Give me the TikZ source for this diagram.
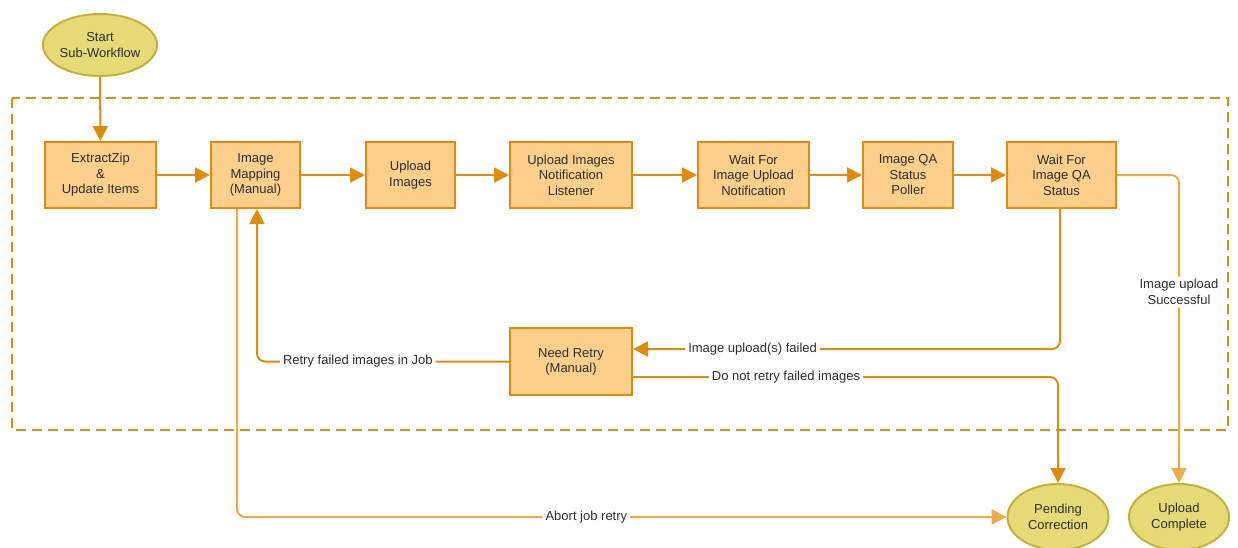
\documentclass[tikz,border=0pt]{standalone}
\usepackage{fontspec}
\setmainfont{Liberation Sans}
\usetikzlibrary{arrows.meta,shapes.geometric}
\definecolor{boxfill}{HTML}{FCD08A}
\definecolor{boxline}{HTML}{E08A0E}
\definecolor{lightline}{HTML}{EEAA45}
\definecolor{ellfill}{HTML}{E6DA76}
\definecolor{ellline}{HTML}{C2B23C}
\definecolor{txt}{HTML}{2E2E2E}
\tikzset{
  every node/.style={font=\fontsize{13}{15.5}\selectfont, text=txt, align=center},
  stepbox/.style={rectangle, draw=boxline, fill=boxfill, line width=2pt, minimum height=66pt, inner sep=0pt},
  term/.style={ellipse, draw=ellline, fill=ellfill, line width=2pt, inner sep=0pt},
  arr/.style={draw=boxline, line width=2pt, -{Triangle[length=15pt,width=15pt]}},
  larr/.style={draw=lightline, line width=2pt, -{Triangle[length=15pt,width=15pt]}, rounded corners=8pt},
  lbl/.style={fill=white, inner sep=3pt},
}
\begin{document}
\begin{tikzpicture}[x=1pt,y=-1pt]
\useasboundingbox (0,0) rectangle (1238,547);
% dashed container
\draw[boxline, line width=2pt, dash pattern=on 10pt off 6pt] (12,98) rectangle (1228,430);
% nodes
\node[term, minimum width=112pt, minimum height=62pt] (start) at (100,45) {Start\\Sub-Workflow};
\node[stepbox, minimum width=111pt] (extract) at (100.5,175) {ExtractZip\\\&\\Update Items};
\node[stepbox, minimum width=89pt] (mapping) at (255.5,175) {Image\\Mapping\\(Manual)};
\node[stepbox, minimum width=89pt] (upload) at (410.5,175) {Upload\\Images};
\node[stepbox, minimum width=122pt] (listener) at (571,175) {Upload Images\\Notification\\Listener};
\node[stepbox, minimum width=111pt] (wait) at (753.5,175) {Wait For\\Image Upload\\Notification};
\node[stepbox, minimum width=90pt] (poller) at (908,175) {Image QA\\Status\\Poller};
\node[stepbox, minimum width=109pt] (waitqa) at (1061.5,175) {Wait For\\Image QA\\Status};
\node[stepbox, minimum width=122pt, minimum height=67pt] (retry) at (571,361.5) {Need Retry\\(Manual)};
\node[term, minimum width=101pt, minimum height=66pt] (pending) at (1058,517) {Pending\\Correction};
\node[term, minimum width=100pt, minimum height=66pt] (complete) at (1179,517) {Upload\\Complete};
% main flow
\draw[arr] (start) -- (extract);
\draw[arr] (extract) -- (mapping);
\draw[arr] (mapping) -- (upload);
\draw[arr] (upload) -- (listener);
\draw[arr] (listener) -- (wait);
\draw[arr] (wait) -- (poller);
\draw[arr] (poller) -- (waitqa);
% branches
\draw[arr, rounded corners=8pt] ([xshift=-1.5pt]waitqa.south) |- node[lbl, pos=0.86]{Image upload(s) failed} ([yshift=12.5pt]retry.east);
\draw[arr, rounded corners=8pt] (retry.west) -| node[lbl, pos=0.3]{Retry failed images in Job} ([xshift=1.5pt]mapping.south);
\draw[arr, rounded corners=8pt] ([yshift=-15.5pt]retry.east) -| node[lbl, pos=0.18]{Do not retry failed images} (pending.north);
\draw[larr] ([xshift=-18.5pt]mapping.south) |- node[lbl, pos=0.727]{Abort job retry} (pending.west);
\draw[larr] (waitqa.east) -| node[lbl, pos=0.69]{Image upload\\Successful} (complete.north);
\end{tikzpicture}
\end{document}
